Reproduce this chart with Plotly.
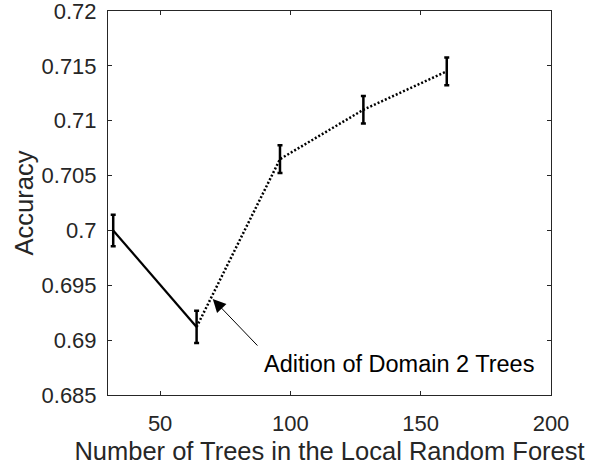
import plotly.graph_objects as go

trees = [32, 64, 96, 128, 160]
accuracy = [0.7000, 0.6912, 0.7065, 0.7110, 0.7145]
err = [0.00144, 0.00147, 0.00126, 0.00126, 0.00126]

x_ticks = [50, 100, 150, 200]
y_ticks = [0.685, 0.69, 0.695, 0.7, 0.705, 0.71, 0.715, 0.72]
y_tick_text = ["0.685", "0.69", "0.695", "0.7", "0.705", "0.71", "0.715", "0.72"]

annot_text = "Adition of Domain 2 Trees"
arrow_head = (70.2, 0.69375)
arrow_tail = (87.9, 0.68937)
text_pos = (89.0, 0.68785)

FONT = "Liberation Sans, Arial, Helvetica, sans-serif"
AXC = "#262626"

fig = go.Figure()

# solid segment (domain 1 trees)
fig.add_trace(go.Scatter(
    x=trees[:2], y=accuracy[:2], mode="lines",
    line=dict(color="black", width=2.2), showlegend=False, hoverinfo="skip"))
# dotted segment (after addition of domain 2 trees)
fig.add_trace(go.Scatter(
    x=trees[1:], y=accuracy[1:], mode="lines",
    line=dict(color="black", width=2.5, dash="2px,2px"), showlegend=False, hoverinfo="skip"))
# error bars
fig.add_trace(go.Scatter(
    x=trees, y=accuracy, mode="markers",
    marker=dict(size=0.1, color="black"),
    error_y=dict(type="data", array=err, visible=True, color="black", thickness=2.5, width=2.5),
    showlegend=False, hoverinfo="skip"))

fig.add_annotation(
    x=arrow_head[0], y=arrow_head[1], ax=arrow_tail[0], ay=arrow_tail[1],
    axref="x", ayref="y", xref="x", yref="y", text="", showarrow=True,
    arrowhead=2, arrowsize=2.6, arrowwidth=1, arrowcolor="black")
fig.add_annotation(
    x=text_pos[0], y=text_pos[1], xref="x", yref="y", text=annot_text,
    showarrow=False, xanchor="left", yanchor="middle",
    font=dict(family=FONT, size=23.5, color="black"))

fig.update_layout(
    width=604, height=466,
    margin=dict(l=108, r=53, t=11, b=71),
    paper_bgcolor="white", plot_bgcolor="white",
    font=dict(family=FONT, color=AXC),
    showlegend=False,
)
fig.update_xaxes(
    range=[30, 200], tickvals=x_ticks, ticks="inside", ticklen=4, tickwidth=1,
    tickcolor=AXC, showline=True, linecolor=AXC, linewidth=1, mirror="ticks",
    showgrid=False, zeroline=False, tickfont=dict(size=22, color=AXC),
    ticklabelstandoff=9, ticklabeloverflow="allow", automargin=False,
    title=dict(text="Number of Trees in the Local Random Forest",
               font=dict(size=25.5, color=AXC), standoff=6),
)
fig.update_yaxes(
    range=[0.685, 0.72], tickvals=y_ticks, ticktext=y_tick_text, ticks="inside",
    ticklen=4, tickwidth=1, tickcolor=AXC, showline=True, linecolor=AXC, linewidth=1,
    mirror="ticks", showgrid=False, zeroline=False, tickfont=dict(size=22, color=AXC),
    ticklabelstandoff=6, ticklabeloverflow="allow", automargin=False,
    title=dict(text="Accuracy", font=dict(size=25.5, color=AXC), standoff=0),
)

fig.write_html("out.html")
